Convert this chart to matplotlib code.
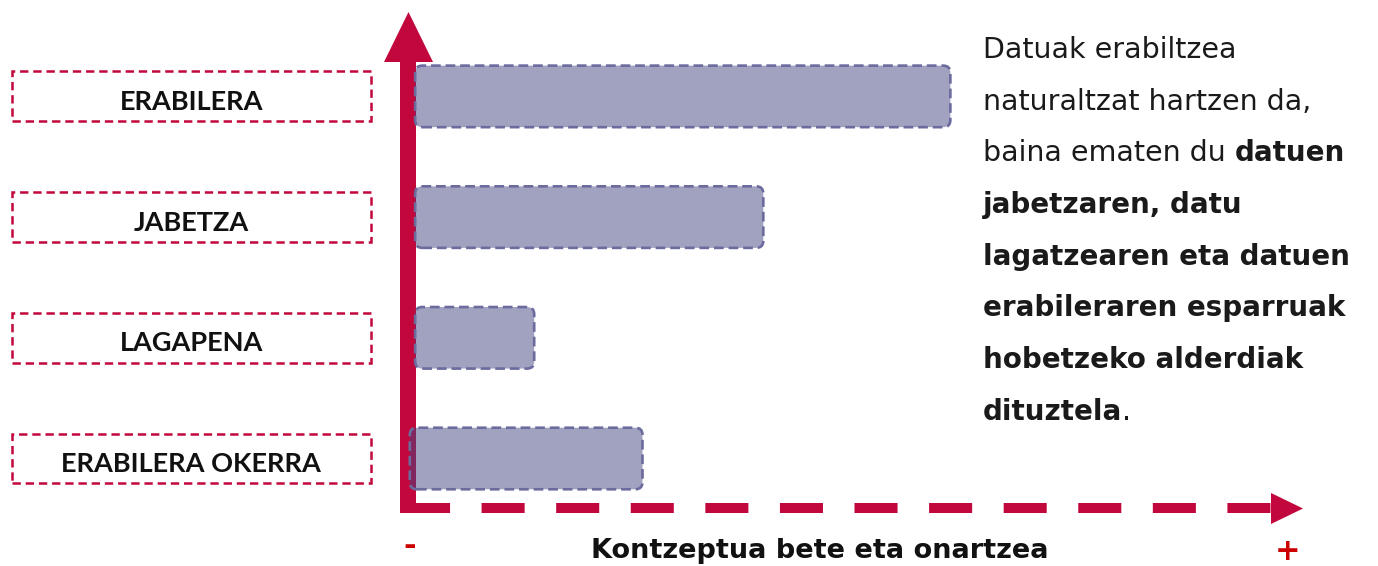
import matplotlib
matplotlib.use("Agg")
import matplotlib.pyplot as plt
from matplotlib.patches import FancyBboxPatch, Rectangle, Polygon
from matplotlib.transforms import Affine2D

plt.rcParams['lines.scale_dashes'] = False

# data (bottom -> top)
categories = ["ERABILERA OKERRA", "LAGAPENA", "JABETZA", "ERABILERA"]
bar_start = [0.2, 0.8, 0.8, 0.8]
bar_end = [26.2, 14.1, 39.7, 60.6]
x_label = "Kontzeptua bete eta onartzea"

W, H = 1378, 566
CRIMSON = "#c1073c"
RED = "#cc0000"

fig = plt.figure(figsize=(W / 100, H / 100), dpi=100)
ax = fig.add_axes([0, 0, 1, 1])
ax.set_xlim(-408 / 8.95, (W - 408) / 8.95)
ax.set_ylim((458.5 - H) / 120.7, 458.5 / 120.7)
ax.axis("off")

# top-left pixel transform for the decorations
T = Affine2D().scale(1 / W, -1 / H).translate(0, 1) + fig.transFigure

# vertical arrow
ax.add_patch(Rectangle((400, 62), 16, 451, transform=T, color=CRIMSON, lw=0, zorder=2))
ax.add_patch(Polygon([(384, 62), (433, 62), (408.5, 12)], transform=T, color=CRIMSON, lw=0, zorder=2))
# horizontal dashed arrow
ax.plot([407, 1271], [508, 508], transform=T, color=CRIMSON, lw=7.2,
        dashes=(31, 22.7), solid_capstyle="butt", zorder=2)
ax.add_patch(Polygon([(1271, 493), (1271, 524), (1303, 508.5)], transform=T, color=CRIMSON, lw=0, zorder=2))

# bars
pos = list(range(len(categories)))
widths = [e - s for s, e in zip(bar_start, bar_end)]
bars = ax.barh(pos, widths, left=bar_start, height=0.51, alpha=0)
aspect = (1 / 120.7) / (1 / 8.95)
for b in bars:
    x0, y0, w, h = b.get_bbox().bounds
    ax.add_patch(FancyBboxPatch((x0, y0), w, h, boxstyle="round,pad=0,rounding_size=0.8",
                                mutation_aspect=aspect, facecolor=(69 / 255, 69 / 255, 131 / 255, 0.5),
                                edgecolor="#6b6b9e", lw=1.9, linestyle=(0, (7, 3.5)), zorder=3))

# category boxes on the left
for p, name in zip(pos, categories):
    ax.add_patch(Rectangle((-44.25, p - 0.207), 40.1, 0.414, fill=False, edgecolor=CRIMSON,
                           lw=1.8, linestyle=(0, (6, 3.5)), zorder=3))
    ax.text(-24.2, p - 0.045, name, ha="center", va="center", fontsize=19.5,
            fontweight="bold", family="Lato", color="#111111")

# axis texts
fig.text(820 / W, 1 - 551 / H, x_label, ha="center", va="center", fontsize=19.5,
         fontweight="bold", family="DejaVu Sans", color="#111111")
fig.text(410 / W, 1 - 546 / H, "-", ha="center", va="center", fontsize=22,
         fontweight="bold", color=RED)
fig.text(1288 / W, 1 - 552 / H, "+", ha="center", va="center", fontsize=22,
         fontweight="bold", color=RED)

# annotation text on the right
lines = [
    [("Datuak erabiltzea", "normal")],
    [("naturaltzat hartzen da,", "normal")],
    [("baina ematen du ", "normal"), ("datuen", "bold")],
    [("jabetzaren, datu", "bold")],
    [("lagatzearen eta datuen", "bold")],
    [("erabileraren esparruak", "bold")],
    [("hobetzeko alderdiak", "bold")],
    [("dituztela", "bold"), (".", "normal")],
]
for i, parts in enumerate(lines):
    y = 1 - (50 + i * 51.7) / H
    prev = None
    for txt, wt in parts:
        size = 20 if wt == "bold" else 20.5
        if prev is None:
            prev = fig.text(983 / W, y, txt, ha="left", va="center", fontsize=size,
                            fontweight=wt, family="DejaVu Sans", color="#1a1a1a")
        else:
            prev = ax.annotate(txt, xy=(1, 0), xycoords=prev, ha="left", va="bottom",
                               fontsize=size, fontweight=wt, family="DejaVu Sans", color="#1a1a1a")

fig.savefig("out.png", dpi=100)
